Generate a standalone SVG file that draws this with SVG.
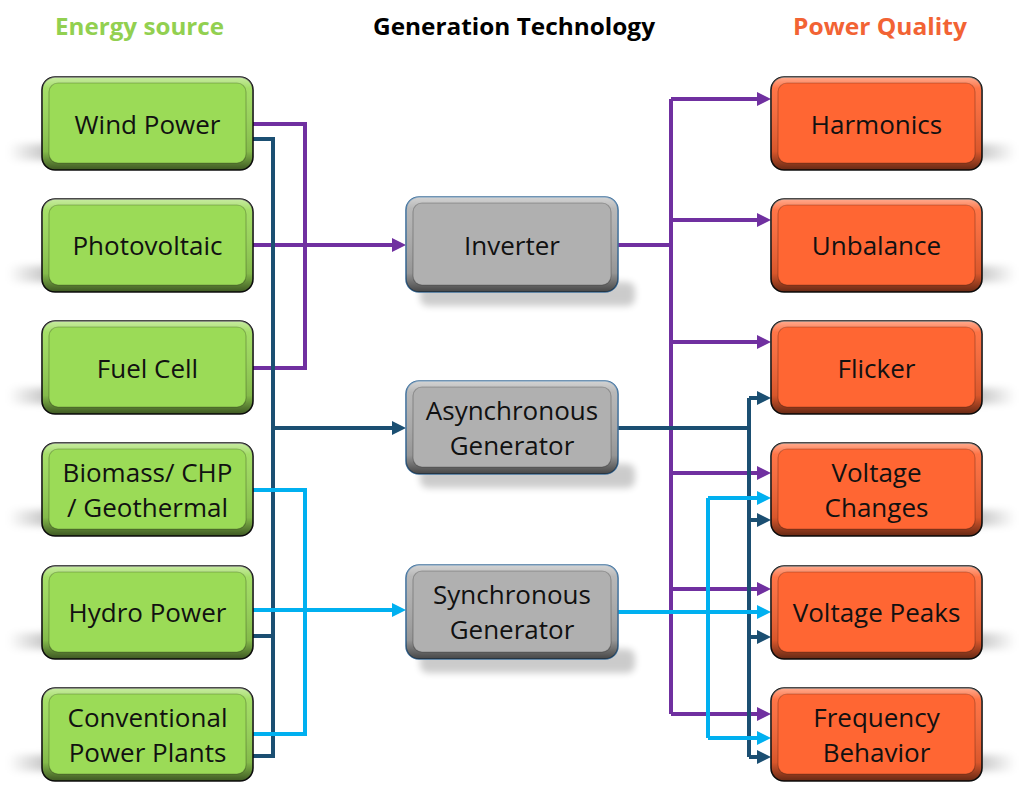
<svg xmlns="http://www.w3.org/2000/svg" width="1024" height="796" viewBox="0 0 1024 796">
<style>
.t{font-family:"Open Sans","Liberation Sans",sans-serif;font-size:26px;fill:#111;text-anchor:middle}
.h{font-family:"Open Sans","Liberation Sans",sans-serif;font-size:23px;font-weight:bold;text-anchor:middle}
.g .o{fill:#9BDB57;stroke:#111;stroke-width:1.6}
.g .i{fill:#9BDB57}
.r .o{fill:#FF6633;stroke:#111;stroke-width:1.6}
.r .i{fill:#FF6633}
.m .o{fill:#B0B0B0;stroke:#41719C;stroke-width:1.6}
.m .i{fill:#B0B0B0}
.ov{fill:url(#bevel)}
.ie{fill:none;stroke:#000;stroke-opacity:0.22;stroke-width:1.2}
.shl{fill:url(#shL);filter:url(#blur)}
.shr{fill:url(#shR);filter:url(#blur)}
.shm{fill:#000;opacity:0.2;filter:url(#blur)}
.c{fill:none;stroke-width:4}
.pu{stroke:#7030A0}
.db{stroke:#1B4F72}
.lb{stroke:#00B0F0}
</style>
<defs>
<linearGradient id="bevel" x1="0" y1="0" x2="0" y2="1">
<stop offset="0" stop-color="#fff" stop-opacity="0.45"/>
<stop offset="0.12" stop-color="#fff" stop-opacity="0.1"/>
<stop offset="0.8" stop-color="#000" stop-opacity="0.15"/>
<stop offset="1" stop-color="#000" stop-opacity="0.6"/>
</linearGradient>
<linearGradient id="shL" x1="0" y1="0" x2="1" y2="0">
<stop offset="0" stop-color="#000" stop-opacity="0"/>
<stop offset="0.6" stop-color="#000" stop-opacity="0.25"/>
<stop offset="1" stop-color="#000" stop-opacity="0.3"/>
</linearGradient>
<linearGradient id="shR" x1="1" y1="0" x2="0" y2="0">
<stop offset="0" stop-color="#000" stop-opacity="0"/>
<stop offset="0.6" stop-color="#000" stop-opacity="0.25"/>
<stop offset="1" stop-color="#000" stop-opacity="0.3"/>
</linearGradient>
<filter id="blur" x="-20%" y="-50%" width="140%" height="200%"><feGaussianBlur stdDeviation="3.5"/></filter>
<marker id="aPu" markerUnits="userSpaceOnUse" markerWidth="16" markerHeight="16" refX="6" refY="7" orient="auto"><path d="M0,0 L14,7 L0,14 z" fill="#7030A0"/></marker>
<marker id="aDb" markerUnits="userSpaceOnUse" markerWidth="16" markerHeight="16" refX="6" refY="7" orient="auto"><path d="M0,0 L14,7 L0,14 z" fill="#1B4F72"/></marker>
<marker id="aLb" markerUnits="userSpaceOnUse" markerWidth="16" markerHeight="16" refX="6" refY="7" orient="auto"><path d="M0,0 L14,7 L0,14 z" fill="#00B0F0"/></marker>
</defs>
<rect width="1024" height="796" fill="#fff"/>

<text class="h" x="139.5" y="35" fill="#92D050" textLength="169" lengthAdjust="spacingAndGlyphs">Energy source</text>
<text class="h" x="514" y="35" fill="#000" textLength="282" lengthAdjust="spacingAndGlyphs">Generation Technology</text>
<text class="h" x="880" y="35" fill="#F26334" textLength="174" lengthAdjust="spacingAndGlyphs">Power Quality</text>

<g id="shadows">
<rect class="shl" x="8" y="144" width="70" height="16" rx="6"/>
<rect class="shl" x="8" y="266" width="70" height="16" rx="6"/>
<rect class="shl" x="8" y="388" width="70" height="16" rx="6"/>
<rect class="shl" x="8" y="510" width="70" height="16" rx="6"/>
<rect class="shl" x="8" y="633" width="70" height="16" rx="6"/>
<rect class="shl" x="8" y="755" width="70" height="16" rx="6"/>
<rect class="shr" x="946" y="144" width="70" height="16" rx="6"/>
<rect class="shr" x="946" y="266" width="70" height="16" rx="6"/>
<rect class="shr" x="946" y="388" width="70" height="16" rx="6"/>
<rect class="shr" x="946" y="510" width="70" height="16" rx="6"/>
<rect class="shr" x="946" y="633" width="70" height="16" rx="6"/>
<rect class="shr" x="946" y="755" width="70" height="16" rx="6"/>
<rect class="shm" x="420" y="282" width="215" height="24" rx="8"/>
<rect class="shm" x="420" y="464" width="215" height="24" rx="8"/>
<rect class="shm" x="420" y="649" width="215" height="24" rx="8"/>
</g>

<g id="connectors">
<path class="c pu" d="M253,124 H305 V368 H253"/>
<path class="c pu" d="M253,245 H398" marker-end="url(#aPu)"/>
<path class="c db" d="M253,139 H273 V756 H253"/>
<path class="c db" d="M253,636 H273"/>
<path class="c db" d="M273,428 H398" marker-end="url(#aDb)"/>
<path class="c lb" d="M253,490 H305 V734 H253"/>
<path class="c lb" d="M253,610 H398" marker-end="url(#aLb)"/>

<path class="c pu" d="M618,245 H671"/>
<path class="c pu" d="M671,99 V714"/>
<path class="c pu" d="M671,99 H763" marker-end="url(#aPu)"/>
<path class="c pu" d="M671,220 H763" marker-end="url(#aPu)"/>
<path class="c pu" d="M671,342 H763" marker-end="url(#aPu)"/>
<path class="c pu" d="M671,473 H763" marker-end="url(#aPu)"/>
<path class="c pu" d="M671,589 H763" marker-end="url(#aPu)"/>
<path class="c pu" d="M671,714 H763" marker-end="url(#aPu)"/>

<path class="c db" d="M618,428 H749"/>
<path class="c db" d="M749,398 V757"/>
<path class="c db" d="M749,398 H763" marker-end="url(#aDb)"/>
<path class="c db" d="M749,520 H763" marker-end="url(#aDb)"/>
<path class="c db" d="M749,637 H763" marker-end="url(#aDb)"/>
<path class="c db" d="M749,757 H763" marker-end="url(#aDb)"/>

<path class="c lb" d="M618,612 H763" marker-end="url(#aLb)"/>
<path class="c lb" d="M708,498 V738"/>
<path class="c lb" d="M708,498 H763" marker-end="url(#aLb)"/>
<path class="c lb" d="M708,738 H763" marker-end="url(#aLb)"/>
</g>

<g id="wind" class="g"><rect class="o" x="42" y="77" width="211" height="93" rx="13"/><rect class="ov" x="42" y="77" width="211" height="93" rx="13"/><rect class="i" x="49" y="83" width="197" height="80" rx="9"/><rect class="ie" x="49" y="83" width="197" height="80" rx="9"/><text class="t" x="147.5" y="134">Wind Power</text></g>
<g id="pv" class="g"><rect class="o" x="42" y="199" width="211" height="93" rx="13"/><rect class="ov" x="42" y="199" width="211" height="93" rx="13"/><rect class="i" x="49" y="205" width="197" height="80" rx="9"/><rect class="ie" x="49" y="205" width="197" height="80" rx="9"/><text class="t" x="147.5" y="255">Photovoltaic</text></g>
<g id="fuel" class="g"><rect class="o" x="42" y="321" width="211" height="93" rx="13"/><rect class="ov" x="42" y="321" width="211" height="93" rx="13"/><rect class="i" x="49" y="327" width="197" height="80" rx="9"/><rect class="ie" x="49" y="327" width="197" height="80" rx="9"/><text class="t" x="147.5" y="378">Fuel Cell</text></g>
<g id="biomass" class="g"><rect class="o" x="42" y="443" width="211" height="93" rx="13"/><rect class="ov" x="42" y="443" width="211" height="93" rx="13"/><rect class="i" x="49" y="449" width="197" height="80" rx="9"/><rect class="ie" x="49" y="449" width="197" height="80" rx="9"/><text class="t" x="147.5" y="482">Biomass/ CHP</text><text class="t" x="147.5" y="517">/ Geothermal</text></g>
<g id="hydro" class="g"><rect class="o" x="42" y="566" width="211" height="93" rx="13"/><rect class="ov" x="42" y="566" width="211" height="93" rx="13"/><rect class="i" x="49" y="572" width="197" height="80" rx="9"/><rect class="ie" x="49" y="572" width="197" height="80" rx="9"/><text class="t" x="147.5" y="622">Hydro Power</text></g>
<g id="conv" class="g"><rect class="o" x="42" y="688" width="211" height="93" rx="13"/><rect class="ov" x="42" y="688" width="211" height="93" rx="13"/><rect class="i" x="49" y="694" width="197" height="80" rx="9"/><rect class="ie" x="49" y="694" width="197" height="80" rx="9"/><text class="t" x="147.5" y="727">Conventional</text><text class="t" x="147.5" y="762">Power Plants</text></g>

<g id="inverter" class="m"><rect class="o" x="406" y="197" width="212" height="95" rx="13"/><rect class="ov" x="406" y="197" width="212" height="95" rx="13"/><rect class="i" x="413" y="203" width="198" height="82" rx="9"/><rect class="ie" x="413" y="203" width="198" height="82" rx="9"/><text class="t" x="512" y="255">Inverter</text></g>
<g id="async" class="m"><rect class="o" x="406" y="381" width="212" height="93" rx="13"/><rect class="ov" x="406" y="381" width="212" height="93" rx="13"/><rect class="i" x="413" y="387" width="198" height="80" rx="9"/><rect class="ie" x="413" y="387" width="198" height="80" rx="9"/><text class="t" x="512" y="420">Asynchronous</text><text class="t" x="512" y="455">Generator</text></g>
<g id="sync" class="m"><rect class="o" x="406" y="565" width="212" height="94" rx="13"/><rect class="ov" x="406" y="565" width="212" height="94" rx="13"/><rect class="i" x="413" y="571" width="198" height="81" rx="9"/><rect class="ie" x="413" y="571" width="198" height="81" rx="9"/><text class="t" x="512" y="604">Synchronous</text><text class="t" x="512" y="639">Generator</text></g>

<g id="harmonics" class="r"><rect class="o" x="771" y="77" width="211" height="93" rx="13"/><rect class="ov" x="771" y="77" width="211" height="93" rx="13"/><rect class="i" x="778" y="83" width="197" height="80" rx="9"/><rect class="ie" x="778" y="83" width="197" height="80" rx="9"/><text class="t" x="876.5" y="134">Harmonics</text></g>
<g id="unbalance" class="r"><rect class="o" x="771" y="199" width="211" height="93" rx="13"/><rect class="ov" x="771" y="199" width="211" height="93" rx="13"/><rect class="i" x="778" y="205" width="197" height="80" rx="9"/><rect class="ie" x="778" y="205" width="197" height="80" rx="9"/><text class="t" x="876.5" y="255">Unbalance</text></g>
<g id="flicker" class="r"><rect class="o" x="771" y="321" width="211" height="93" rx="13"/><rect class="ov" x="771" y="321" width="211" height="93" rx="13"/><rect class="i" x="778" y="327" width="197" height="80" rx="9"/><rect class="ie" x="778" y="327" width="197" height="80" rx="9"/><text class="t" x="876.5" y="378">Flicker</text></g>
<g id="vchanges" class="r"><rect class="o" x="771" y="443" width="211" height="93" rx="13"/><rect class="ov" x="771" y="443" width="211" height="93" rx="13"/><rect class="i" x="778" y="449" width="197" height="80" rx="9"/><rect class="ie" x="778" y="449" width="197" height="80" rx="9"/><text class="t" x="876.5" y="482">Voltage</text><text class="t" x="876.5" y="517">Changes</text></g>
<g id="vpeaks" class="r"><rect class="o" x="771" y="566" width="211" height="93" rx="13"/><rect class="ov" x="771" y="566" width="211" height="93" rx="13"/><rect class="i" x="778" y="572" width="197" height="80" rx="9"/><rect class="ie" x="778" y="572" width="197" height="80" rx="9"/><text class="t" x="876.5" y="622">Voltage Peaks</text></g>
<g id="freq" class="r"><rect class="o" x="771" y="688" width="211" height="93" rx="13"/><rect class="ov" x="771" y="688" width="211" height="93" rx="13"/><rect class="i" x="778" y="694" width="197" height="80" rx="9"/><rect class="ie" x="778" y="694" width="197" height="80" rx="9"/><text class="t" x="876.5" y="727">Frequency</text><text class="t" x="876.5" y="762">Behavior</text></g>
</svg>
